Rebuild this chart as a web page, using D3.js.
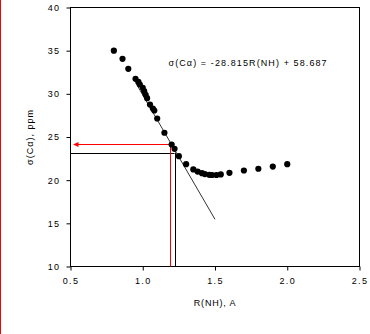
<!DOCTYPE html>
<html><head><meta charset="utf-8">
<script src="https://cdn.jsdelivr.net/npm/d3@7"></script>
<style>
html,body{margin:0;padding:0;background:#fff;}
svg text{font-family:Arial,"Liberation Sans",sans-serif;fill:#000;}
</style></head>
<body><svg id="c" width="370" height="334"></svg>
<script>
const rNH = [0.80,0.86,0.90,0.95,0.97,0.98,1.00,1.01,1.02,1.03,1.05,1.07,1.08,1.10,1.15,1.20,1.22,1.25,1.30,1.35,1.38,1.41,1.43,1.46,1.48,1.51,1.54,1.60,1.70,1.80,1.90,2.00];
const sigma = [35.0,34.06,32.9,31.74,31.39,31.08,30.70,30.31,29.89,29.50,28.76,28.30,28.07,27.14,25.49,24.13,23.63,22.78,21.85,21.24,21.00,20.81,20.70,20.62,20.60,20.60,20.66,20.85,21.12,21.32,21.58,21.85];
const xTicks = [0.5,1.0,1.5,2.0,2.5];
const yTicks = [10,15,20,25,30,35,40];
const fitSlope = -28.815, fitIntercept = 58.687;
const fitRange = [0.95, 1.5];
const redGuide = {x:1.187, y:24.2};
const blackGuide = {x:1.22, y:23.2};

const svg = d3.select("#c");
// left red border
svg.append("line").attr("x1",0.5).attr("x2",0.5).attr("y1",0).attr("y2",334).attr("stroke","#ff0000").attr("stroke-width",1);

const x = d3.scaleLinear().domain([0.5,2.5]).range([70.5,359.5]);
const y = d3.scaleLinear().domain([10,40]).range([266.5,7.5]);

// frame
svg.append("rect").attr("x",x(0.5)).attr("y",y(40)).attr("width",x(2.5)-x(0.5)).attr("height",y(10)-y(40))
  .attr("fill","none").attr("stroke","#000").attr("stroke-width",1);

const fmt = d3.format(".1f");
const xAxis = svg.append("g").attr("transform",`translate(0,${y(10)})`)
  .call(d3.axisBottom(x).tickValues(xTicks).tickFormat(fmt).tickSize(4).tickPadding(7));
const yAxis = svg.append("g").attr("transform",`translate(${x(0.5)},0)`)
  .call(d3.axisLeft(y).tickValues(yTicks).tickFormat(d3.format("d")).tickSize(4).tickPadding(6));
[xAxis,yAxis].forEach(g=>{
  g.select(".domain").remove();
  g.selectAll(".tick line").attr("stroke","#000");
  g.selectAll(".tick text").attr("font-size","9px").attr("letter-spacing","1.4px").attr("fill","#000")
   .attr("font-family","Arial, 'Liberation Sans', sans-serif");
});

// regression line
svg.append("line")
  .attr("x1",x(fitRange[0])).attr("y1",y(fitSlope*fitRange[0]+fitIntercept))
  .attr("x2",x(fitRange[1])).attr("y2",y(fitSlope*fitRange[1]+fitIntercept))
  .attr("stroke","#000").attr("stroke-width",0.8);

// guide lines
svg.append("line").attr("x1",x(0.5)).attr("x2",x(blackGuide.x)).attr("y1",Math.round(y(blackGuide.y))+0.5).attr("y2",Math.round(y(blackGuide.y))+0.5).attr("stroke","#000");
svg.append("line").attr("x1",Math.round(x(blackGuide.x))+0.5).attr("x2",Math.round(x(blackGuide.x))+0.5).attr("y1",y(blackGuide.y)).attr("y2",y(10)).attr("stroke","#000");
const ry = Math.round(y(redGuide.y))+0.5, rx = Math.round(x(redGuide.x))+0.5;
svg.append("line").attr("x1",x(0.5)+6).attr("x2",rx).attr("y1",ry).attr("y2",ry).attr("stroke","#ff0000");
svg.append("line").attr("x1",rx).attr("x2",rx).attr("y1",ry).attr("y2",y(10)).attr("stroke","#ff0000");
svg.append("path").attr("d",`M${x(0.5)+2.5},${ry} L${x(0.5)+8},${ry-2.5} L${x(0.5)+8},${ry+2.5} Z`).attr("fill","#ff0000");

// points
svg.append("g").selectAll("circle").data(rNH.map((d,i)=>[d,sigma[i]])).join("circle")
  .attr("cx",d=>x(d[0])).attr("cy",d=>y(d[1])).attr("r",3.1).attr("fill","#000");

// equation
svg.append("text").attr("x",168.5).attr("y",66).attr("font-size","9px").attr("letter-spacing","1.1px")
  .text("σ(Cα) = -28.815R(NH) + 58.687");

// axis titles
svg.append("text").attr("x",(x(0.5)+x(2.5))/2).attr("y",306).attr("text-anchor","middle")
  .attr("font-size","9px").attr("letter-spacing","0.8px").text("R(NH), A");
svg.append("text").attr("transform",`translate(33,${(y(10)+y(40))/2}) rotate(-90)`).attr("text-anchor","middle")
  .attr("font-size","9px").attr("letter-spacing","1px").text("σ(Cα), ppm");
</script></body></html>
